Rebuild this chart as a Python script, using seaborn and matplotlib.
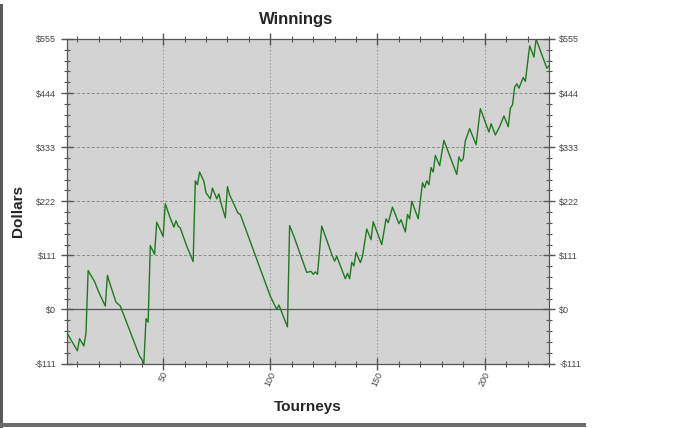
import numpy as np
import pandas as pd
import matplotlib
matplotlib.use('Agg')
import matplotlib.pyplot as plt
import seaborn as sns
from matplotlib.ticker import MultipleLocator
from matplotlib.patches import Rectangle

# data (tourney number, cumulative winnings in dollars)
tourneys = [5, 6, 10, 11, 13, 14, 15, 16, 18, 20, 23, 24, 25, 28, 30, 39, 40, 41, 42, 43,
            44, 46, 47, 50, 51, 53, 55, 56, 57, 58, 61, 64, 65, 66, 67, 69, 70, 72, 73, 75,
            76, 77, 79, 80, 81, 85, 86, 100, 103, 104, 108, 109, 111, 114, 117, 119, 120, 121, 122, 124,
            129, 130, 131, 135, 136, 137, 138, 139, 140, 142, 143, 145, 147, 148, 152, 154, 155, 157, 160, 161,
            163, 164, 165, 166, 169, 171, 172, 173, 174, 175, 176, 177, 179, 181, 187, 188, 189, 190, 191, 193,
            196, 198, 202, 203, 205, 207, 209, 211, 212, 213, 214, 215, 216, 218, 219, 221, 223, 224, 229, 230]
winnings = [-47, -55, -85, -60, -75, -48, 80, 72, 57, 35, 7, 70, 55, 15, 7, -96, -102, -111, -19, -26,
            131, 113, 179, 150, 217, 191, 169, 182, 171, 167, 130, 98, 264, 256, 282, 263, 239, 227, 249, 227,
            237, 218, 188, 252, 235, 197, 195, 27, 0, 9, -36, 172, 150, 113, 76, 78, 72, 77, 72, 171,
            109, 99, 109, 63, 74, 63, 97, 89, 117, 96, 109, 165, 143, 180, 133, 186, 178, 210, 176, 184,
            159, 195, 186, 222, 186, 260, 250, 264, 256, 291, 282, 316, 295, 347, 277, 313, 304, 309, 346, 371,
            338, 412, 364, 381, 358, 375, 397, 375, 413, 420, 456, 463, 454, 476, 468, 541, 518, 555, 495, 500]

ytick_values = [-111, 0, 111, 222, 333, 444, 555]
ytick_labels = ['-$111', '$0', '$111', '$222', '$333', '$444', '$555']
xtick_values = [50, 100, 150, 200]

df = pd.DataFrame({'Tourneys': tourneys, 'Dollars': winnings})

sns.set_style('ticks')
plt.rcParams['font.family'] = ['Liberation Sans', 'DejaVu Sans']

fig = plt.figure(figsize=(7, 4.28), dpi=100)
ax = fig.add_axes([0.0953, 0.1507, 0.6889, 0.7582])
ax.set_facecolor('#d3d3d3')

sns.lineplot(data=df, x='Tourneys', y='Dollars', ax=ax, color='#1f7a1f', linewidth=1.0)

ax.set_xlim(min(tourneys), max(tourneys))
ax.set_ylim(min(winnings), max(winnings))

ax.set_yticks(ytick_values)
ax.set_yticklabels(ytick_labels)
ax.set_xticks(xtick_values)
ax.set_xticklabels([str(v) for v in xtick_values], rotation=65)
ax.xaxis.set_minor_locator(MultipleLocator(10))
ax.yaxis.set_minor_locator(MultipleLocator(22.2))

ax.tick_params(axis='both', which='major', direction='inout', length=8, width=1,
               colors='#555555', labelsize=6.5, labelcolor='#444444',
               top=True, right=True, labelright=True)
ax.tick_params(axis='both', which='minor', direction='inout', length=4, width=0.8,
               colors='#555555', top=True, right=True)
ax.tick_params(axis='x', which='major', pad=1)

ax.grid(axis='y', which='major', linestyle=(0, (3, 2)), color='#8a8a8a', linewidth=0.7)
ax.grid(axis='x', which='major', linestyle=(0, (1, 2)), color='#8a8a8a', linewidth=0.8)
ax.axhline(0, color='#555555', linewidth=0.9, zorder=1)

for s in ax.spines.values():
    s.set_color('#555555')
    s.set_linewidth(0.9)

ax.set_title('Winnings', fontsize=12, fontweight='bold', x=0.475, pad=11)
ax.set_xlabel('Tourneys', fontsize=11, fontweight='bold', labelpad=9)
ax.set_ylabel('Dollars', fontsize=11, fontweight='bold')
ax.yaxis.set_label_coords(-0.087, 0.47)

# window frame edges seen in the screenshot
fig.patches.append(Rectangle((0, 0), 2.5 / 700, 1 - 4 / 428, transform=fig.transFigure,
                             facecolor='#5a5a5a', edgecolor='none'))
fig.patches.append(Rectangle((0, 1 / 428), 586 / 700, 4 / 428, transform=fig.transFigure,
                             facecolor='#6a6a6a', edgecolor='none'))

fig.savefig('out.png', dpi=100)
